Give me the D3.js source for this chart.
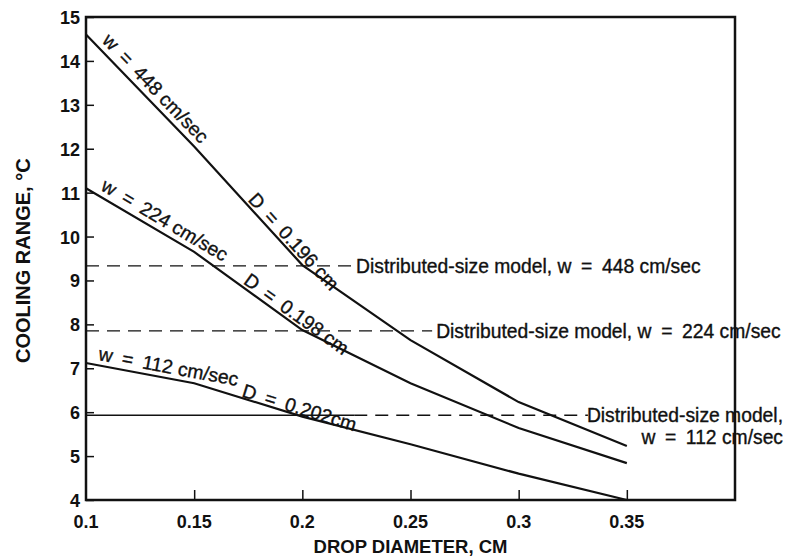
<!DOCTYPE html>
<html>
<head>
<meta charset="utf-8">
<script src="https://cdn.jsdelivr.net/npm/d3@7/dist/d3.min.js"></script>
<style>
  body { margin: 0; background: #fff; }
  text { font-family: "Liberation Sans", Arial, sans-serif; fill: #111; }
  .tick-label { font-weight: bold; font-size: 18px; }
  .axis-title { font-weight: bold; font-size: 18.5px; }
  .note { font-size: 19.3px; stroke: #111; stroke-width: 0.35px; }
</style>
</head>
<body>
<div id="chart"></div>
<script>
// drop diameter (cm) vs cooling range (deg C)
var diameters = [0.1, 0.15, 0.2, 0.25, 0.3, 0.35];
var range448 = [14.6, 12.05, 9.35, 7.64, 6.23, 5.23];
var range224 = [11.1, 9.65, 7.87, 6.66, 5.64, 4.84];
var range112 = [7.12, 6.66, 5.9, 5.27, 4.6, 4.0];

// distributed-size model levels
var distLevels = [9.33, 7.85, 5.93];
var distEnds = [0.223, 0.26, 0.332];
var distLabels = [
  ["Distributed-size model, w\u2002=\u2002448 cm/sec"],
  ["Distributed-size model, w\u2002=\u2002224 cm/sec"],
  ["Distributed-size model,", "w\u2002=\u2002112 cm/sec"]
];

var xTicks = [0.1, 0.15, 0.2, 0.25, 0.3, 0.35];
var yTicks = [4, 5, 6, 7, 8, 9, 10, 11, 12, 13, 14, 15];

var svgWidth = 788, svgHeight = 557;
var margin = { top: 17, right: 53, bottom: 57, left: 86 };

var svg = d3.select("#chart")
  .append("svg")
  .attr("width", svgWidth)
  .attr("height", svgHeight);

var x = d3.scaleLinear().domain([0.1, 0.4]).range([margin.left, svgWidth - margin.right]);
var y = d3.scaleLinear().domain([4, 15]).range([svgHeight - margin.bottom, margin.top]);

// axes: ticks point inward
var yAxis = d3.axisRight(y).tickValues(yTicks).tickSize(8).tickFormat("");
svg.append("g").attr("transform", "translate(" + x(0.1) + ",0)").call(yAxis)
  .call(g => g.select(".domain").remove())
  .selectAll("line").attr("stroke", "#111").attr("stroke-width", 1.5);

var xAxis = d3.axisTop(x).tickValues(xTicks.slice(1)).tickSize(10).tickFormat("");
svg.append("g").attr("transform", "translate(0," + y(4) + ")").call(xAxis)
  .call(g => g.select(".domain").remove())
  .selectAll("line").attr("stroke", "#111").attr("stroke-width", 1.5);

// frame
svg.append("rect")
  .attr("x", x(0.1)).attr("y", y(15))
  .attr("width", x(0.4) - x(0.1)).attr("height", y(4) - y(15))
  .attr("fill", "none").attr("stroke", "#111").attr("stroke-width", 2.5);

// tick labels
svg.selectAll(".ylab").data(yTicks).enter().append("text")
  .attr("class", "tick-label")
  .attr("x", x(0.1) - 6).attr("y", d => y(d) + 7)
  .attr("text-anchor", "end")
  .text(d => d);

svg.selectAll(".xlab").data(xTicks).enter().append("text")
  .attr("class", "tick-label")
  .attr("x", d => x(d)).attr("y", y(4) + 28)
  .attr("text-anchor", "middle")
  .text(d => d);

svg.append("text").attr("class", "axis-title")
  .attr("x", x(0.25)).attr("y", 553)
  .attr("text-anchor", "middle")
  .text("DROP DIAMETER, CM");

svg.append("text").attr("class", "axis-title")
  .style("font-size", "20px")
  .attr("transform", "translate(30," + y(9.45) + ") rotate(-90)")
  .attr("text-anchor", "middle")
  .text("COOLING RANGE, °C");

// distributed-size model lines
distLevels.forEach(function (v, i) {
  var start = 0.1;
  if (i == 2) {
    // first part of the lowest one is drawn solid
    svg.append("line")
      .attr("x1", x(0.1)).attr("x2", x(0.224))
      .attr("y1", y(v)).attr("y2", y(v))
      .attr("stroke", "#111").attr("stroke-width", 1.3);
    start = 0.224;
  }
  svg.append("line")
    .attr("x1", x(start)).attr("x2", x(distEnds[i]))
    .attr("y1", y(v)).attr("y2", y(v))
    .attr("stroke", "#111").attr("stroke-width", 1.3)
    .attr("stroke-dasharray", "13,8");
  var t = svg.append("text").attr("class", "note")
    .attr("y", y(v) + 7);
  distLabels[i].forEach(function (s, j) {
    var tsp = t.append("tspan")
      .attr("dy", j == 0 ? 0 : 22)
      .text(s);
    if (i < 2) tsp.attr("x", x(distEnds[i]) + 4);
    else tsp.attr("x", 783).attr("text-anchor", "end");
  });
});

// curves
var line = d3.line().x(d => x(d[0])).y(d => y(d[1]));
var curves = [range448, range224, range112];
curves.forEach(function (vals) {
  svg.append("path")
    .datum(diameters.map((d, i) => [d, vals[i]]))
    .attr("d", line)
    .attr("fill", "none")
    .attr("stroke", "#111")
    .attr("stroke-width", 2.2);
});

// labels along curve segments: curve, segment, fraction, offset
function segLabel(vals, seg, frac, off, str) {
  var x0 = x(diameters[seg]), y0 = y(vals[seg]);
  var x1 = x(diameters[seg + 1]), y1 = y(vals[seg + 1]);
  var ang = Math.atan2(y1 - y0, x1 - x0) * 180 / Math.PI;
  var px = x0 + (x1 - x0) * frac, py = y0 + (y1 - y0) * frac;
  svg.append("text").attr("class", "note")
    .attr("transform", "translate(" + px + "," + py + ") rotate(" + ang + ")")
    .attr("x", 0).attr("y", off)
    .text(str);
}

segLabel(range448, 0, 0.1, -6, "w\u2002=\u2002448 cm/sec");
segLabel(range448, 1, 0.47, -3, "D\u2002=\u20020.196 cm");
segLabel(range224, 0, 0.1, -6, "w\u2002=\u2002224 cm/sec");
segLabel(range224, 1, 0.43, -3, "D\u2002=\u20020.198 cm");
segLabel(range112, 0, 0.1, -5, "w\u2002=\u2002112 cm/sec");
segLabel(range112, 1, 0.43, -1, "D\u2002=\u20020.202cm");
</script>
</body>
</html>
